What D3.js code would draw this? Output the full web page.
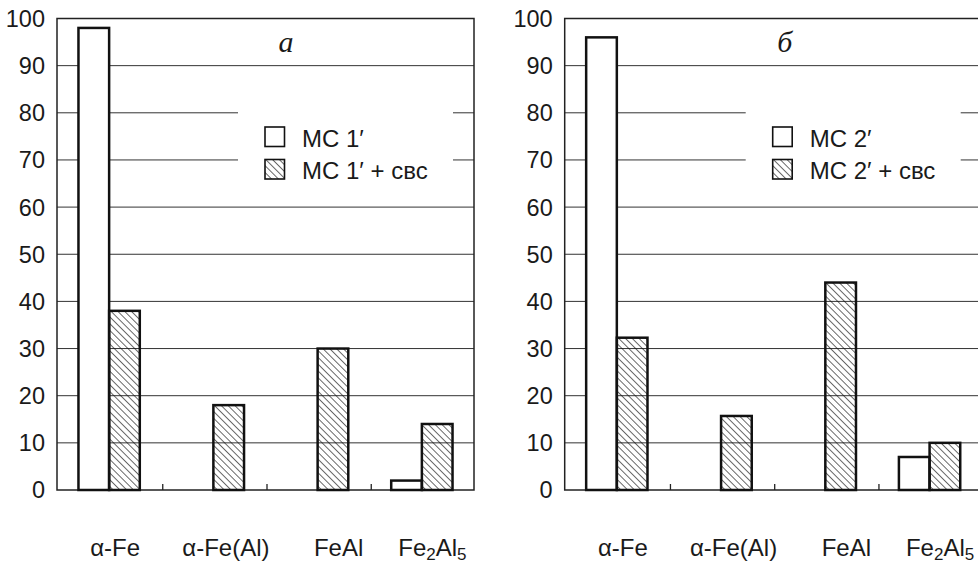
<!DOCTYPE html>
<html>
<head>
<meta charset="utf-8">
<script src="https://cdn.jsdelivr.net/npm/d3@7"></script>
<style>
  body { margin: 0; background: #fff; }
  svg { display: block; }
  text { font-family: "Liberation Sans", Arial, sans-serif; fill: #1a1a1a; }
</style>
</head>
<body>
<div id="chart"></div>
<script>
(function() {

    var width = 978;
    var height = 564;

    // data
    var categories = ["α-Fe", "α-Fe(Al)", "FeAl", "Fe2Al5"];
    var yTicks = [0, 10, 20, 30, 40, 50, 60, 70, 80, 90, 100];
    var ms1 = [98, 0, 0, 2];
    var ms1svs = [38, 18, 30, 14];
    var ms2 = [96, 0, 0, 7];
    var ms2svs = [32.3, 15.7, 44, 10];
    var titles = ["а", "б"];
    var legend1 = ["МС 1′", "МС 1′ + свс"];
    var legend2 = ["МС 2′", "МС 2′ + свс"];

    var svg = d3.select("#chart")
        .append("svg")
        .attr("width", width)
        .attr("height", height);

    // diagonal hatch "\\"
    svg.append("defs")
        .append("pattern")
        .attr("id", "hatch")
        .attr("patternUnits", "userSpaceOnUse")
        .attr("width", 4.8)
        .attr("height", 4.8)
        .attr("patternTransform", "rotate(-45)")
        .append("line")
        .attr("x1", 0).attr("y1", 0)
        .attr("x2", 0).attr("y2", 4.8)
        .attr("stroke", "#111")
        .attr("stroke-width", 1.25);

    var plotW = 417;
    var y = d3.scaleLinear().domain([0, 100]).range([490, 18.5]);
    var x0 = d3.scaleBand().domain(categories).range([0, plotW]);
    var x1 = d3.scaleBand().domain([0, 1]).range([0, x0.bandwidth()]).paddingOuter(0.7);

    // label nudges seen in the original layout
    var labelNudge = [6, 12.5, 21, 10.5];

    function drawPanel(left, a, b, title, titleDx, leg) {
        var g = svg.append("g").attr("transform", "translate(" + left + ",0)");

        // grid
        g.selectAll(".grid")
            .data(yTicks.filter(function(t) { return t > 0 && t < 100; }))
            .enter().append("line")
            .attr("x1", 0).attr("x2", plotW)
            .attr("y1", function(d) { return y(d); })
            .attr("y2", function(d) { return y(d); })
            .attr("stroke", "#333")
            .attr("stroke-width", 1);

        // legend background
        g.append("rect")
            .attr("x", 181).attr("y", 92)
            .attr("width", 215).attr("height", 100)
            .attr("fill", "#fff");

        // frame
        g.append("rect")
            .attr("x", 0).attr("y", y(100))
            .attr("width", plotW).attr("height", y(0) - y(100))
            .attr("fill", "none")
            .attr("stroke", "#222")
            .attr("stroke-width", 1.5);

        // category separators
        g.selectAll(".sep")
            .data(categories.slice(1))
            .enter().append("line")
            .attr("x1", function(d) { return x0(d) + 1.5; })
            .attr("x2", function(d) { return x0(d) + 1.5; })
            .attr("y1", y(0)).attr("y2", y(0) - 6)
            .attr("stroke", "#222")
            .attr("stroke-width", 1.3);

        // y labels
        g.selectAll(".ylab")
            .data(yTicks)
            .enter().append("text")
            .attr("x", -12)
            .attr("y", function(d) { return y(d); })
            .attr("dy", "0.36em")
            .attr("text-anchor", "end")
            .attr("font-size", 23.5)
            .text(function(d) { return d; });

        // bars
        var rows = categories.map(function(c, i) { return { cat: c, vals: [a[i], b[i]] }; });
        var grp = g.selectAll(".cat")
            .data(rows)
            .enter().append("g")
            .attr("transform", function(d) { return "translate(" + x0(d.cat) + ",0)"; });

        grp.selectAll("rect")
            .data(function(d) { return d.vals.map(function(v, k) { return { k: k, v: v }; }); })
            .enter().filter(function(d) { return d.v > 0; })
            .append("rect")
            .attr("x", function(d) { return x1(d.k); })
            .attr("y", function(d) { return y(d.v); })
            .attr("width", x1.bandwidth())
            .attr("height", function(d) { return y(0) - y(d.v); })
            .attr("fill", function(d) { return d.k === 0 ? "#fff" : "url(#hatch)"; })
            .attr("stroke", "#111")
            .attr("stroke-width", 2.5);

        // category labels, digits as subscripts
        g.selectAll(".xlab")
            .data(categories)
            .enter().append("text")
            .attr("x", function(d, i) { return x0(d) + x0.bandwidth() / 2 + labelNudge[i]; })
            .attr("y", 556)
            .attr("text-anchor", "middle")
            .attr("font-size", 24)
            .each(function(d) {
                var t = d3.select(this);
                var parts = d.match(/\d+|\D+/g);
                var sub = false;
                parts.forEach(function(p) {
                    var isNum = /^\d+$/.test(p);
                    var ts = t.append("tspan").text(p);
                    if (isNum && !sub) { ts.attr("dy", 3.5).attr("font-size", 17); sub = true; }
                    else if (!isNum && sub) { ts.attr("dy", -3.5); sub = false; }
                    else if (isNum) { ts.attr("font-size", 17); }
                });
            });

        // panel title
        g.append("text")
            .attr("x", titleDx)
            .attr("y", 52)
            .attr("text-anchor", "middle")
            .attr("font-size", 30)
            .attr("font-style", "italic")
            .style("font-family", "'Liberation Serif', 'Times New Roman', serif")
            .text(title);

        // legend
        var lg = g.selectAll(".leg")
            .data(leg)
            .enter().append("g")
            .attr("transform", function(d, i) { return "translate(208," + (127 + i * 32.5) + ")"; });

        lg.append("rect")
            .attr("width", 19.5).attr("height", 19.5)
            .attr("fill", function(d, i) { return i === 0 ? "#fff" : "url(#hatch)"; })
            .attr("stroke", "#111")
            .attr("stroke-width", 1.6);

        lg.append("text")
            .attr("x", 37)
            .attr("y", 19.5)
            .attr("font-size", 24)
            .text(function(d) { return d; });
    }

    drawPanel(57, ms1, ms1svs, titles[0], 229, legend1);
    drawPanel(564.7, ms2, ms2svs, titles[1], 220, legend2);

})();
</script>
</body>
</html>
